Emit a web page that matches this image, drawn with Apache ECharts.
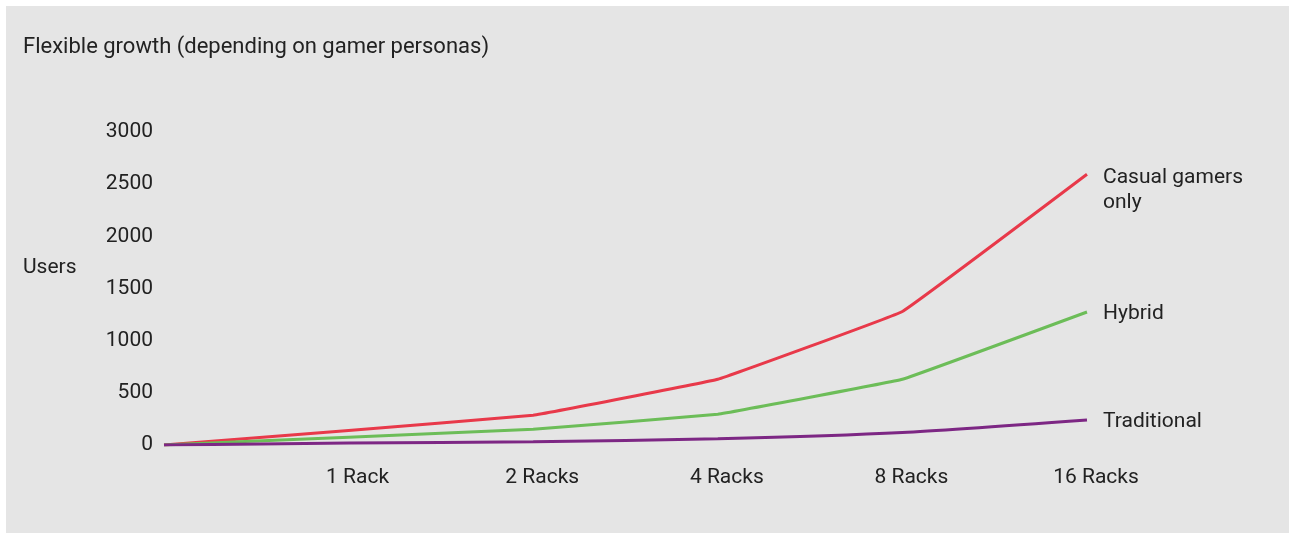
<!DOCTYPE html>
<html>
<head>
<meta charset="utf-8">
<script src="https://cdn.jsdelivr.net/npm/echarts@6/dist/echarts.min.js"></script>
<style>
  html, body { margin: 0; padding: 0; background: #ffffff; }
  #panel { position: absolute; left: 6px; top: 6px; width: 1283px; height: 527px; background: #e5e5e5; }
  #chart { position: absolute; left: 0; top: 0; width: 1290px; height: 533px; }
</style>
</head>
<body>
<div id="panel"></div>
<div id="chart"></div>
<script>
const categories = ['', '1 Rack', '2 Racks', '4 Racks', '8 Racks', '16 Racks'];
const casualGamers = [0, 140, 285, 630, 1280, 2595];
const hybrid = [0, 75, 150, 295, 630, 1275];
const traditional = [0, 18, 32, 60, 120, 240];
const yTicks = [0, 500, 1000, 1500, 2000, 2500, 3000];

const FONT = 'Roboto';
const TXT = '#222222';

const chart = echarts.init(document.getElementById('chart'), null, { renderer: 'canvas' });

function lineSeries(name, data, color, labelText, labelOffset, smooth) {
  return {
    name: name,
    type: 'line',
    data: data,
    showSymbol: false,
    symbol: 'none',
    smooth: smooth,
    lineStyle: { color: color, width: 3 },
    itemStyle: { color: color },
    emphasis: { disabled: true },
    endLabel: {
      show: true,
      formatter: labelText,
      distance: 16,
      offset: labelOffset,
      color: TXT,
      fontFamily: FONT,
      fontSize: 21,
      lineHeight: 25
    }
  };
}

chart.setOption({
  backgroundColor: 'transparent',
  animation: false,
  title: [
    { text: 'Flexible growth (depending on gamer personas)', left: 18, top: 31,
      textStyle: { fontFamily: FONT, fontSize: 22, fontWeight: 'normal', color: TXT } },
    { text: 'Users', left: 18, top: 252,
      textStyle: { fontFamily: FONT, fontSize: 21, fontWeight: 'normal', color: TXT } }
  ],
  grid: { left: 164, right: 203, top: 132, bottom: 88, containLabel: false },
  xAxis: {
    type: 'category',
    data: categories,
    boundaryGap: false,
    axisLine: { show: false },
    axisTick: { show: false },
    splitLine: { show: false },
    axisLabel: { interval: 0, margin: 22, color: TXT, fontFamily: FONT, fontSize: 21, padding: [0, 0, 0, 18] }
  },
  yAxis: {
    type: 'value',
    min: yTicks[0],
    max: yTicks[yTicks.length - 1],
    interval: 500,
    axisLine: { show: false },
    axisTick: { show: false },
    splitLine: { show: false },
    axisLabel: { margin: 11, color: TXT, fontFamily: FONT, fontSize: 21, padding: [0, 0, 6, 0],
      formatter: function (v) { return String(v); } }
  },
  series: [
    lineSeries('Casual gamers only', casualGamers, '#e8394a', 'Casual gamers\nonly', [0, 16], 0.05),
    lineSeries('Hybrid', hybrid, '#6cbd58', 'Hybrid', [0, 2], 0.05),
    lineSeries('Traditional', traditional, '#7d2784', 'Traditional', [0, 2], 0.2)
  ]
});
</script>
</body>
</html>
